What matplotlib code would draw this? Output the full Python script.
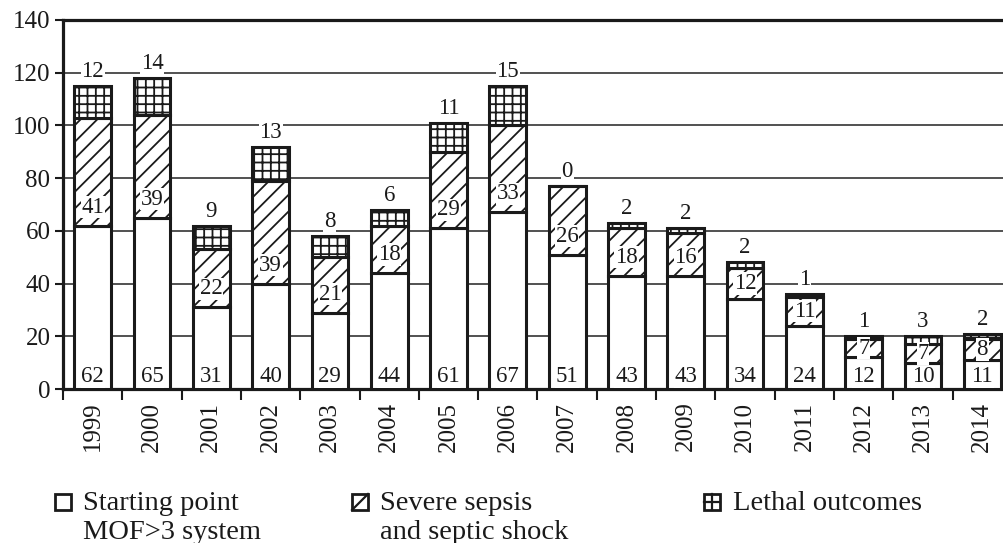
import matplotlib
matplotlib.use("Agg")
import matplotlib.pyplot as plt
from matplotlib.patches import Rectangle
from matplotlib.lines import Line2D
import numpy as np

years = ["1999", "2000", "2001", "2002", "2003", "2004", "2005", "2006",
         "2007", "2008", "2009", "2010", "2011", "2012", "2013", "2014"]
starting = [62, 65, 31, 40, 29, 44, 61, 67, 51, 43, 43, 34, 24, 12, 10, 11]
sepsis = [41, 39, 22, 39, 21, 18, 29, 33, 26, 18, 16, 12, 11, 7, 7, 8]
lethal = [12, 14, 9, 13, 8, 6, 11, 15, 0, 2, 2, 2, 1, 1, 3, 2]
legend_labels = ["Starting point\nMOF>3 system", "Severe sepsis\nand septic shock", "Lethal outcomes"]

plt.rcParams['font.family'] = ['Liberation Serif', 'DejaVu Serif']
plt.rcParams['hatch.linewidth'] = 1.3
plt.rcParams['hatch.color'] = '#1a1a1a'

W, H = 1004, 543
fig = plt.figure(figsize=(W / 100, H / 100), dpi=100)
ink = '#1a1a1a'

def fx(px):
    return px / W

def fy(py):
    return 1 - py / H

left_px, right_px, top_px, zero_px = 63, 1012, 20, 389
ax = fig.add_axes([fx(left_px), fy(zero_px), (right_px - left_px) / W, (zero_px - top_px) / H])

x = np.arange(len(years))
s = np.array(starting)
sp = np.array(sepsis)
le = np.array(lethal)
bw = 0.62
elw = 2.2

ax.bar(x, s, bw, color='white', edgecolor=ink, linewidth=elw, zorder=3)
ax.bar(x, sp, bw, bottom=s, color='white', edgecolor=ink, linewidth=elw, hatch='//', zorder=3)
ax.bar(x, le, bw, bottom=s + sp, color='white', edgecolor=ink, linewidth=elw, hatch='++', zorder=3)

box = dict(facecolor='white', edgecolor='none', pad=0.5)
for i in range(len(years)):
    ax.text(x[i], 4.6, str(starting[i]), ha='center', va='center', fontsize=16.5,
            color=ink, zorder=5, bbox=box)
    yc = s[i] + min(7, sp[i] / 2)
    ax.text(x[i], yc, str(sepsis[i]), ha='center', va='center', fontsize=16.5,
            color=ink, zorder=5, bbox=box)
    ax.text(x[i], s[i] + sp[i] + le[i] + 5.5, str(lethal[i]), ha='center', va='center',
            fontsize=16.5, color=ink, zorder=5, bbox=box)

ax.set_xlim(-0.5, 15.5)
ax.set_ylim(0, 140)
ax.set_yticks(np.arange(0, 141, 20))
ax.set_xticks(x)
ax.set_xticklabels(years, rotation=90, fontsize=18, color=ink)
ax.set_xticks(np.arange(-0.5, 16, 1), minor=True)
ax.tick_params(axis='x', which='major', length=0, pad=9)
ax.tick_params(axis='x', which='minor', length=8, width=1.5, color=ink, direction='out')
ax.tick_params(axis='y', labelsize=18, length=6, width=1.5, color=ink, labelcolor=ink, pad=3)

ax.yaxis.grid(True, color='#333333', linewidth=1.2, zorder=0)
ax.set_axisbelow(True)
for side in ['left', 'bottom', 'top']:
    ax.spines[side].set_linewidth(2.3)
    ax.spines[side].set_color(ink)
ax.spines['right'].set_visible(False)

# legend drawn manually
def add_square(x0, y0, size, kind):
    r = Rectangle((fx(x0), fy(y0 + size)), size / W, size / H, transform=fig.transFigure,
                  facecolor='white', edgecolor=ink, linewidth=2.0)
    fig.add_artist(r)
    if kind == 'diag':
        fig.add_artist(Line2D([fx(x0), fx(x0 + size)], [fy(y0 + size), fy(y0)],
                              transform=fig.transFigure, color=ink, linewidth=1.6))
    elif kind == 'cross':
        fig.add_artist(Line2D([fx(x0 + size / 2)] * 2, [fy(y0), fy(y0 + size)],
                              transform=fig.transFigure, color=ink, linewidth=1.6))
        fig.add_artist(Line2D([fx(x0), fx(x0 + size)], [fy(y0 + size / 2)] * 2,
                              transform=fig.transFigure, color=ink, linewidth=1.6))

items = [(55, 83, 'none'), (352, 380, 'diag'), (704, 733, 'cross')]
for (sqx, tx, kind), lab in zip(items, legend_labels):
    add_square(sqx, 494, 16, kind)
    for j, line in enumerate(lab.split("\n")):
        fig.text(fx(tx), fy(510 + 29 * j), line, fontsize=20.5, color=ink,
                 ha='left', va='baseline')

fig.savefig("out.png", dpi=100)
